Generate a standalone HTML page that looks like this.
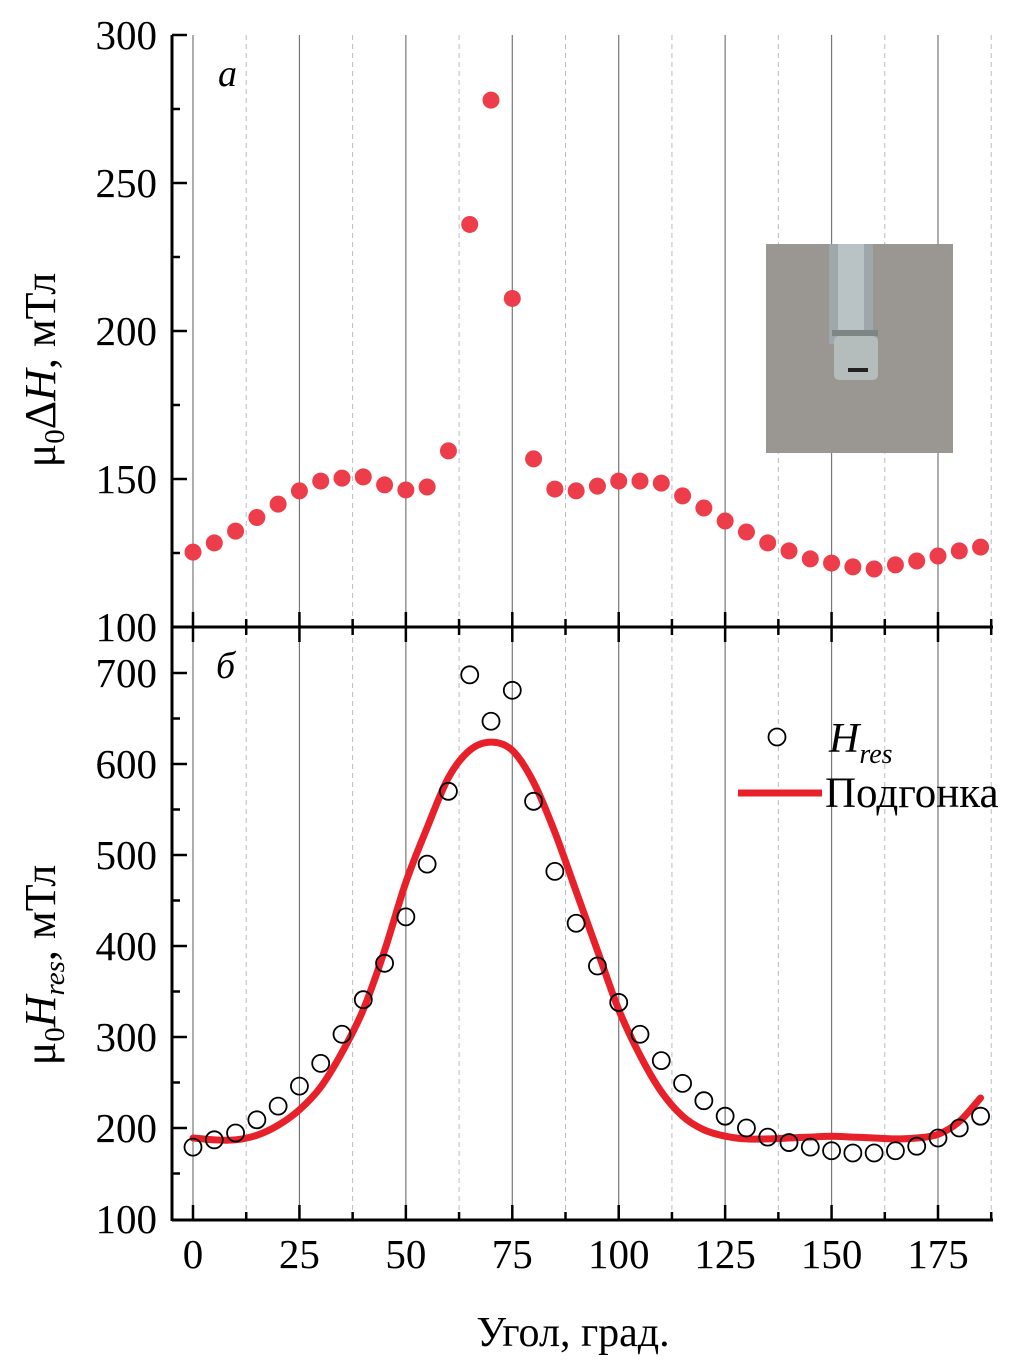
<!DOCTYPE html>
<html><head><meta charset="utf-8"><style>
html,body{margin:0;padding:0;background:#fff;}
svg{display:block;font-family:"Liberation Serif",serif;}
</style></head><body>
<svg id="chart" width="1016" height="1363" viewBox="0 0 1016 1363" xmlns="http://www.w3.org/2000/svg">
<g id="grid"></g>
<g id="inset">
<rect x="766" y="244" width="187" height="209" fill="#9a9792"/>
<rect x="829" y="244" width="44" height="100" fill="#9ea7a9"/>
<rect x="838" y="244" width="26" height="110" fill="#b9c3c6"/>
<rect x="832" y="330" width="46" height="6" fill="#7d8585"/>
<rect x="834" y="336" width="44" height="44" rx="5" fill="#b4bcbc"/>
<rect x="848" y="368" width="20" height="4" fill="#222"/>
</g>
<g id="axes"></g>
<g id="marks"></g>
<g id="labels">
<text x="218" y="86" font-size="38" font-style="italic">a</text>
<text x="216" y="678" font-size="38" font-style="italic">б</text>
<text transform="translate(55,370) rotate(-90)" text-anchor="middle" font-size="44">μ<tspan font-size="29" dy="9">0</tspan><tspan dy="-9">Δ</tspan><tspan font-style="italic">H</tspan>, мТл</text>
<text transform="translate(55,965) rotate(-90)" text-anchor="middle" font-size="44">μ<tspan font-size="29" dy="9">0</tspan><tspan font-style="italic" dy="-9">H</tspan><tspan font-style="italic" font-size="29" dy="9">res</tspan><tspan dy="-9">, мТл</tspan></text>
<text x="573" y="1346" text-anchor="middle" font-size="42">Угол, град.</text>
</g>
<g id="legend">
<circle cx="777" cy="737" r="8.5" fill="#fff" stroke="#000" stroke-width="1.8"/>
<text x="829" y="752" font-size="42" font-style="italic">H<tspan font-size="28" dy="11">res</tspan></text>
<line x1="738" y1="793" x2="822" y2="793" stroke="#e8202a" stroke-width="7"/>
<text x="825" y="807" font-size="43">Подгонка</text>
</g>
</svg>
<script>
const angles = [0,5,10,15,20,25,30,35,40,45,50,55,60,65,70,75,80,85,90,95,100,105,110,115,120,125,130,135,140,145,150,155,160,165,170,175,180,185];
const linewidthValues = [125.3,128.4,132.4,137,141.5,146,149.3,150.3,150.7,148,146.3,147.3,159.5,236,278,211,156.8,146.6,146,147.6,149.3,149.3,148.6,144.3,140.2,135.8,132.1,128.4,125.7,123,121.6,120.3,119.6,121,122.3,124,125.7,127];
const hresValues = [179,187,194.5,209,224,246,271,303,341,381,432,490,570,698,647,681,559,482,425,378,338,303,274,249,230,213,200,190,184,179,175,172.5,172.5,175,180,189,200,213];
const fitAngles = [0,5,10,15,20,25,30,35,40,45,50,55,60,65,70,75,80,85,90,95,100,105,110,115,120,125,130,135,140,145,150,155,160,165,170,175,180,185];
const fitValues = [189,187,187,192,203,220,245,283,330,395,470,530,585,615,624,615,580,525,460,395,330,280,240,213,198,191,188,188,189,190,191,190,189,188,189,193,207,233];
const xTicks = [0,25,50,75,100,125,150,175];
const topTicks = [100,150,200,250,300];
const botTicks = [100,200,300,400,500,600,700];

const NS="http://www.w3.org/2000/svg";
const X0=172, X1=993;
const xS = a => 193 + a*(745/175);
const yT = v => 627 - (v-100)*(592/200);
const yB = v => 1219 - (v-100)*(546/600);
function mk(parent, tag, attrs){const e=document.createElementNS(NS,tag);for(const k in attrs)e.setAttribute(k,attrs[k]);document.getElementById(parent).appendChild(e);return e;}

for(let a=0;a<=187.5;a+=12.5){
  const major = a%25===0;
  const g=mk('grid','line',{x1:xS(a),x2:xS(a),y1:35,y2:1219,stroke:major?'#777':'#bbb','stroke-width':major?1.2:1,'stroke-dasharray':major?'none':'5,4'});
  
  
}
const sw=3;
let l=mk('axes','line',{x1:X0,x2:X0,y1:35,y2:1221,stroke:'#000','stroke-width':sw});


l=mk('axes','line',{x1:X0,x2:X1,y1:627,y2:627,stroke:'#000','stroke-width':sw});


l=mk('axes','line',{x1:X0,x2:X1,y1:1220,y2:1220,stroke:'#000','stroke-width':sw});


for(let a=0;a<=187.5;a+=12.5){
  const major=a%25===0, len=major?15:8;
  let t=mk('axes','line',{x1:xS(a),x2:xS(a),y1:1220-len,y2:1220,stroke:'#000','stroke-width':2.5});
  
  
  t=mk('axes','line',{x1:xS(a),x2:xS(a),y1:627-len,y2:627+len,stroke:'#000','stroke-width':2.5});
  
  
}
xTicks.forEach(a=>{const t=mk('axes','text',{x:xS(a),y:1268,'text-anchor':'middle','font-size':41});t.textContent=a;
  
  });
for(let v=100;v<=300;v+=25){const major=v%50===0;
  const t=mk('axes','line',{x1:X0,x2:X0+(major?15:8),y1:yT(v),y2:yT(v),stroke:'#000','stroke-width':2.5});
  
  }
topTicks.forEach(v=>{const t=mk('axes','text',{x:157,y:yT(v)+14,'text-anchor':'end','font-size':41});t.textContent=v;
  
  });
for(let v=150;v<=700;v+=50){const major=v%100===0;
  const t=mk('axes','line',{x1:X0,x2:X0+(major?15:8),y1:yB(v),y2:yB(v),stroke:'#000','stroke-width':2.5});
  
  }
botTicks.forEach(v=>{const t=mk('axes','text',{x:157,y:yB(v)+14,'text-anchor':'end','font-size':41});t.textContent=v;
  
  });

angles.forEach((a,i)=>{const c=mk('marks','circle',{cx:xS(a),cy:yT(linewidthValues[i]),r:8.5,fill:'#ee3d4a'});
  
  });
const pts=fitAngles.map((a,i)=>[xS(a),yB(fitValues[i])]);
let d='M'+pts[0][0]+','+pts[0][1];
for(let i=0;i<pts.length-1;i++){const p0=pts[Math.max(0,i-1)],p1=pts[i],p2=pts[i+1],p3=pts[Math.min(pts.length-1,i+2)];
  d+=` C${p1[0]+(p2[0]-p0[0])/6},${p1[1]+(p2[1]-p0[1])/6} ${p2[0]-(p3[0]-p1[0])/6},${p2[1]-(p3[1]-p1[1])/6} ${p2[0]},${p2[1]}`;}
const fp=mk('marks','path',{d:d,fill:'none',stroke:'#e8202a','stroke-width':7,'stroke-linejoin':'round','stroke-linecap':'round'});


angles.forEach((a,i)=>{const c=mk('marks','circle',{cx:xS(a),cy:yB(hresValues[i]),r:8.5,fill:'none',stroke:'#000','stroke-width':1.8});
  
  });
</script>
</body></html>
